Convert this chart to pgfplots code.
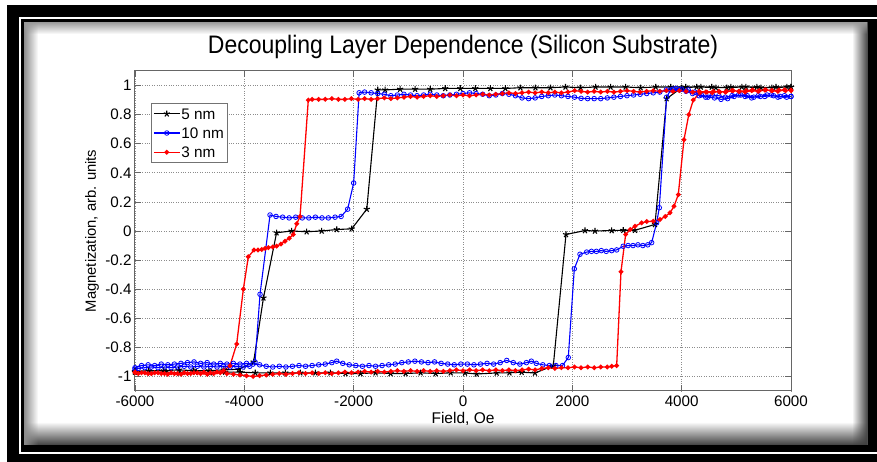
\documentclass[border=0pt]{standalone}
\usepackage{pgfplots}
\pgfplotsset{compat=1.18}
\usepackage{fontspec}
\setmainfont{Liberation Sans}
\usetikzlibrary{fadings,backgrounds}

\begin{document}
\begin{tikzpicture}[x=1pt,y=1pt]
\begin{axis}[
  scale only axis, width=656pt, height=320pt,
  xmin=-6000, xmax=6000, ymin=-1.1, ymax=1.1,
  xtick={-6000,-4000,-2000,0,2000,4000,6000},
  ytick={-1,-0.8,-0.6,-0.4,-0.2,0,0.2,0.4,0.6,0.8,1},
  scaled x ticks=false, scaled y ticks=false,
  /pgf/number format/.cd, 1000 sep={}, assume math mode=true, /pgfplots/.cd,
  tick align=inside, major tick length=6pt,
  tick style={black!60, line width=0.8pt},
  axis line style={black!60, line width=1pt},
  grid=major, major grid style={dotted, black!45, line width=0.8pt},
  tick label style={font=\fontsize{15.2}{15.2}\selectfont},
  xticklabel style={yshift=-1.5pt},
  title={\scalebox{1}[1.1]{Decoupling Layer Dependence (Silicon Substrate)}},
  title style={at={(axis description cs:0.5,1.057)}, anchor=center, font=\fontsize{23}{23}\selectfont},
  xlabel={Field, Oe},
  xlabel style={at={(axis description cs:0.5,-0.087)}, anchor=center, font=\fontsize{15.5}{15.5}\selectfont},
  ylabel={Magnetization, arb. units},
  ylabel style={at={(axis description cs:-0.0655,0.5)}, anchor=center, font=\fontsize{14.8}{14.8}\selectfont},
  legend cell align=left,
  legend style={at={(axis description cs:0.024,0.899)}, anchor=north west, draw=black!55, fill=white, line width=0.8pt,
    font=\fontsize{15.3}{15.3}\selectfont, inner xsep=2pt, inner ysep=0.5pt, row sep=0pt,
    nodes={inner sep=1pt, text height=13.9pt, text depth=3.3pt}},
  legend image code/.code={\draw[mark repeat=2,mark phase=2] plot coordinates {(0pt,0pt) (13pt,0pt) (26pt,0pt)};},
]
\coordinate (axsw) at (rel axis cs:0,0);

% 5 nm
\addplot[black, line width=1.1pt, mark=star, mark size=3.2pt, mark options={line width=1.1pt}] coordinates {
(6000,0.99)(5725,0.99)(5450,0.985)(5175,0.99)(4900,0.99)(4625,0.985)(4350,0.99)(4075,0.99)(3800,0.99)(3525,0.99)(3250,0.985)(2975,0.99)(2700,0.99)(2425,0.99)(2150,0.985)(1875,0.99)(1600,0.985)(1325,0.985)(1050,0.985)(775,0.98)(500,0.98)(225,0.98)(-50,0.98)(-325,0.98)(-600,0.975)(-875,0.975)(-1150,0.975)(-1425,0.97)(-1560,0.97)(-1760,0.15)(-2035,0.015)(-2310,0.01)(-2585,0.0)(-2860,-0.005)(-3135,0.0)(-3410,-0.012)(-3650,-0.46)(-3830,-0.90)(-4100,-0.95)(-4375,-0.955)(-4650,-0.96)(-4925,-0.96)(-5200,-0.955)(-5475,-0.96)(-5750,-0.96)(-6000,-0.965)
(-6000,-0.97)(-5725,-0.975)(-5450,-0.97)(-5175,-0.975)(-4900,-0.97)(-4625,-0.975)(-4350,-0.97)(-4075,-0.97)(-3800,-0.975)(-3525,-0.975)(-3250,-0.975)(-2975,-0.975)(-2700,-0.975)(-2425,-0.975)(-2150,-0.98)(-1875,-0.98)(-1600,-0.975)(-1325,-0.98)(-1050,-0.98)(-775,-0.975)(-500,-0.98)(-225,-0.975)(37,-0.976)(250,-0.983)(616,-0.976)(850,-0.975)(1073,-0.971)(1317,-0.976)(1652,-0.926)(1884,-0.024)(2231,0.003)(2414,0.0)(2720,0.003)(2932,0.005)(3146,0.005)(3512,0.045)(3725,0.91)(4000,0.985)(4275,0.99)(4550,0.99)(4825,0.985)(5100,0.99)(5375,0.99)(5650,0.985)(5925,0.99)(6000,0.99)
};
\addlegendentry{5 nm}

% 10 nm
\addplot[blue, line width=1.1pt, mark=o, mark size=2.3pt, mark options={line width=0.8pt}] coordinates {
(6000,0.925)(5880,0.93)(5760,0.92)(5640,0.935)(5520,0.925)(5400,0.93)(5280,0.915)(5160,0.925)(5040,0.935)(4920,0.93)(4800,0.92)(4680,0.93)(4560,0.935)(4440,0.92)(4320,0.93)(4200,0.945)(4080,0.96)(3960,0.97)(3840,0.975)(3720,0.97)(3600,0.955)(3480,0.95)(3360,0.945)(3240,0.94)(3120,0.935)(3000,0.93)(2880,0.925)(2760,0.92)(2640,0.915)(2520,0.91)(2400,0.91)(2280,0.91)(2160,0.912)(2040,0.92)(1920,0.925)(1800,0.93)(1680,0.935)(1560,0.93)(1440,0.925)(1320,0.915)(1200,0.91)(1080,0.915)(960,0.93)(840,0.94)(720,0.945)(600,0.935)(480,0.93)(360,0.94)(240,0.945)(120,0.95)(0,0.945)(-120,0.94)(-240,0.935)(-360,0.93)(-480,0.935)(-600,0.94)(-720,0.935)(-840,0.93)(-960,0.935)(-1080,0.94)(-1200,0.935)(-1320,0.93)(-1440,0.94)(-1560,0.945)(-1680,0.95)(-1800,0.955)(-1900,0.95)(-2000,0.33)(-2110,0.15)(-2230,0.10)(-2340,0.095)(-2463,0.09)(-2580,0.09)(-2700,0.095)(-2820,0.09)(-2940,0.09)(-3060,0.095)(-3180,0.09)(-3300,0.095)(-3420,0.10)(-3530,0.11)(-3713,-0.435)(-3804,-0.90)(-3900,-0.93)(-4020,-0.935)(-4140,-0.93)(-4260,-0.935)(-4380,-0.93)(-4500,-0.935)(-4620,-0.93)(-4740,-0.935)(-4860,-0.93)(-4980,-0.935)(-5100,-0.93)(-5220,-0.935)(-5340,-0.94)(-5460,-0.935)(-5580,-0.94)(-5700,-0.935)(-5820,-0.94)(-5940,-0.945)(-6000,-0.95)
(-6000,-0.94)(-5880,-0.925)(-5760,-0.92)(-5640,-0.925)(-5520,-0.915)(-5400,-0.92)(-5280,-0.915)(-5160,-0.91)(-5040,-0.905)(-4920,-0.9)(-4800,-0.91)(-4680,-0.905)(-4560,-0.915)(-4440,-0.91)(-4320,-0.915)(-4200,-0.91)(-4080,-0.915)(-3960,-0.91)(-3840,-0.915)(-3720,-0.92)(-3600,-0.93)(-3480,-0.935)(-3360,-0.93)(-3240,-0.935)(-3120,-0.93)(-3000,-0.925)(-2880,-0.93)(-2760,-0.925)(-2640,-0.92)(-2520,-0.915)(-2400,-0.905)(-2310,-0.895)(-2200,-0.91)(-2080,-0.92)(-1960,-0.925)(-1840,-0.93)(-1720,-0.925)(-1600,-0.93)(-1480,-0.925)(-1360,-0.92)(-1240,-0.915)(-1120,-0.905)(-1000,-0.9)(-880,-0.895)(-760,-0.9)(-640,-0.905)(-520,-0.9)(-400,-0.91)(-280,-0.915)(-160,-0.92)(-40,-0.915)(80,-0.915)(200,-0.92)(320,-0.915)(440,-0.91)(560,-0.915)(680,-0.905)(800,-0.89)(920,-0.905)(1040,-0.915)(1160,-0.905)(1250,-0.895)(1340,-0.91)(1460,-0.92)(1580,-0.925)(1700,-0.925)(1820,-0.925)(1926,-0.87)(2036,-0.26)(2140,-0.16)(2262,-0.145)(2350,-0.14)(2440,-0.14)(2530,-0.135)(2620,-0.14)(2720,-0.135)(2811,-0.13)(2930,-0.105)(3020,-0.10)(3110,-0.10)(3200,-0.095)(3290,-0.10)(3380,-0.095)(3451,-0.08)(3542,0.056)(3591,0.16)(3725,0.92)(3800,0.97)(3900,0.98)(4000,0.975)(4120,0.97)(4240,0.955)(4360,0.935)(4480,0.92)(4600,0.915)(4720,0.905)(4840,0.91)(4960,0.925)(5080,0.935)(5200,0.93)(5320,0.92)(5440,0.925)(5560,0.935)(5680,0.93)(5800,0.925)(5920,0.92)(6000,0.925)
};
\addlegendentry{10 nm}

% 3 nm
\addplot[red, line width=1.3pt, mark=*, mark size=1.7pt] coordinates {
(6000,0.965)(5880,0.97)(5760,0.96)(5640,0.965)(5520,0.97)(5400,0.96)(5280,0.965)(5160,0.955)(5040,0.96)(4920,0.965)(4800,0.955)(4680,0.96)(4560,0.95)(4440,0.955)(4320,0.96)(4200,0.955)(4080,0.96)(3960,0.965)(3840,0.96)(3720,0.965)(3600,0.96)(3480,0.965)(3360,0.96)(3240,0.955)(3120,0.96)(3000,0.965)(2880,0.96)(2760,0.955)(2640,0.96)(2520,0.955)(2400,0.96)(2280,0.955)(2160,0.96)(2040,0.965)(1920,0.955)(1800,0.95)(1680,0.955)(1560,0.95)(1440,0.955)(1320,0.95)(1200,0.955)(1080,0.95)(960,0.945)(840,0.95)(720,0.945)(600,0.94)(480,0.935)(360,0.94)(240,0.935)(120,0.93)(0,0.935)(-120,0.93)(-240,0.935)(-360,0.93)(-480,0.925)(-600,0.93)(-720,0.925)(-840,0.92)(-960,0.925)(-1080,0.92)(-1200,0.915)(-1320,0.91)(-1440,0.915)(-1560,0.91)(-1680,0.905)(-1800,0.91)(-1920,0.905)(-2040,0.91)(-2160,0.905)(-2280,0.905)(-2400,0.91)(-2520,0.905)(-2640,0.905)(-2760,0.905)(-2830,0.90)(-2981,0.10)(-3040,0.05)(-3104,-0.024)(-3180,-0.05)(-3256,-0.07)(-3330,-0.09)(-3408,-0.104)(-3480,-0.11)(-3560,-0.115)(-3620,-0.12)(-3683,-0.127)(-3750,-0.13)(-3823,-0.131)(-3927,-0.177)(-4018,-0.40)(-4140,-0.777)(-4262,-0.926)(-4380,-0.96)(-4500,-0.97)(-4620,-0.975)(-4740,-0.97)(-4860,-0.975)(-4980,-0.98)(-5100,-0.975)(-5220,-0.98)(-5340,-0.975)(-5460,-0.98)(-5580,-0.975)(-5700,-0.98)(-5820,-0.975)(-5940,-0.98)(-6000,-0.975)
(-6000,-0.97)(-5880,-0.975)(-5760,-0.98)(-5640,-0.975)(-5520,-0.98)(-5400,-0.985)(-5280,-0.98)(-5160,-0.985)(-5040,-0.98)(-4920,-0.975)(-4800,-0.98)(-4680,-0.985)(-4560,-0.98)(-4440,-0.975)(-4320,-0.98)(-4200,-0.985)(-4080,-0.99)(-3960,-0.995)(-3840,-1.0)(-3720,-0.995)(-3600,-0.99)(-3480,-0.985)(-3360,-0.98)(-3240,-0.985)(-3120,-0.98)(-3000,-0.975)(-2880,-0.98)(-2760,-0.975)(-2640,-0.98)(-2520,-0.975)(-2400,-0.98)(-2280,-0.975)(-2160,-0.97)(-2040,-0.975)(-1920,-0.97)(-1800,-0.965)(-1680,-0.97)(-1560,-0.965)(-1440,-0.97)(-1320,-0.965)(-1200,-0.96)(-1080,-0.965)(-960,-0.96)(-840,-0.965)(-720,-0.96)(-600,-0.965)(-480,-0.96)(-360,-0.965)(-240,-0.96)(-120,-0.955)(0,-0.96)(120,-0.955)(240,-0.96)(360,-0.955)(480,-0.96)(600,-0.955)(720,-0.96)(840,-0.955)(960,-0.96)(1080,-0.955)(1200,-0.95)(1320,-0.955)(1440,-0.945)(1560,-0.94)(1680,-0.945)(1800,-0.94)(1920,-0.94)(2040,-0.935)(2160,-0.94)(2280,-0.935)(2400,-0.94)(2520,-0.935)(2640,-0.935)(2720,-0.93)(2811,-0.926)(2890,-0.28)(2975,-0.024)(3060,0.01)(3146,0.033)(3268,0.056)(3360,0.065)(3481,0.067)(3603,0.079)(3700,0.10)(3786,0.125)(3860,0.17)(3938,0.25)(4042,0.627)(4130,0.80)(4212,0.90)(4335,0.95)(4460,0.955)(4580,0.96)(4700,0.955)(4820,0.96)(4940,0.965)(5060,0.96)(5180,0.965)(5300,0.97)(5420,0.965)(5540,0.97)(5660,0.965)(5780,0.97)(5900,0.965)(6000,0.97)
};
\addlegendentry{3 nm}
\end{axis}
\pgfresetboundingbox
\begin{scope}[shift={(axsw)}]
\begin{scope}[shift={(-135pt,-71pt)}]
\path[use as bounding box] (0,0) rectangle (877,462);
\begin{scope}[on background layer]
\fill[white] (0,0) rectangle (877,462);
\fill[black] (7,0) rectangle (877,457);
\draw[white, line width=2pt] (20,8.5) rectangle (900,444);
\fill[white] (24,17) rectangle (868,440);
\fill[black!75, path fading=north] (24,17) rectangle (868,40);
\fill[black!75, path fading=west] (852,17) rectangle (868,440);
\fill[black!45, path fading=east] (24,17) rectangle (38,440);
\fill[black!40, path fading=south] (24,428) rectangle (868,440);
\end{scope}
\end{scope}
\end{scope}
\end{tikzpicture}
\end{document}
